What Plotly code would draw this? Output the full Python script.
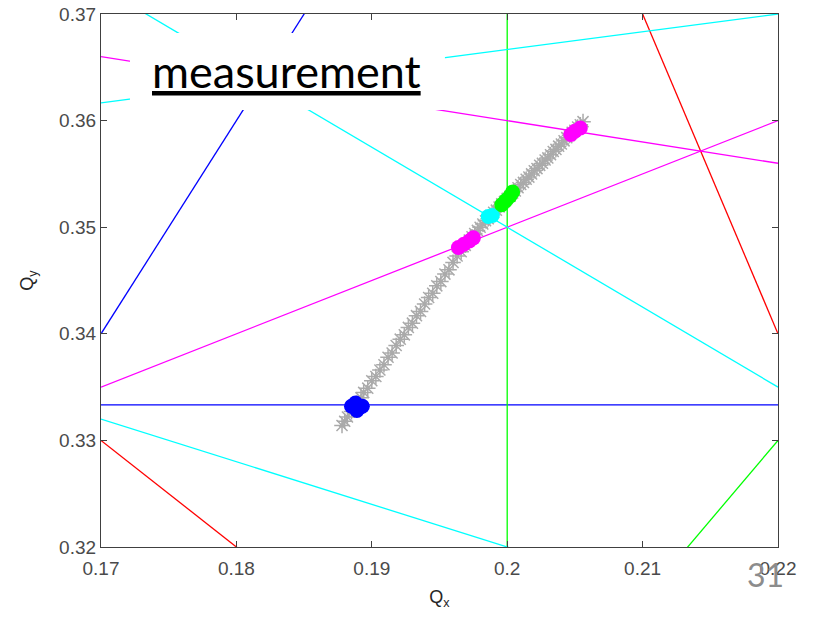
import plotly.graph_objects as go

# resonance lines m*Qx + n*Qy = p
res_m = [0, 2, 2, 3, 5, 3, -2, 1, 3, -1, 2]
res_n = [3, -1, 2, 1, 0, -2, 4, 5, 4, 6, 5]
res_p = [1, 0, 1, 1, 1, 0, 1, 2, 2, 2, 2]
res_color = ['#0000ff', '#0000ff', '#ff0000', '#ff0000', '#00ff00', '#00ff00',
             '#ff00ff', '#ff00ff', '#00ffff', '#00ffff', '#00ffff']

# measured tunes (gray)
meas_qx = [0.1878, 0.1880, 0.1882, 0.1885, 0.1887, 0.1889, 0.1892, 0.1894, 0.1897, 0.1900,
           0.1903, 0.1906, 0.1909, 0.1912, 0.1915, 0.1918, 0.1921, 0.1924, 0.1927, 0.1930,
           0.1933, 0.1936, 0.1939, 0.1942, 0.1945, 0.1948, 0.1951, 0.1954, 0.1957, 0.1960,
           0.1963, 0.1966, 0.1969, 0.1972, 0.1974, 0.1976, 0.1978, 0.1980, 0.1982, 0.1984,
           0.1986, 0.1988, 0.1990, 0.1992, 0.1994, 0.1996, 0.1998, 0.2000, 0.2002, 0.2004,
           0.2006, 0.2008, 0.2010, 0.2012, 0.2014, 0.2016, 0.2018, 0.2020, 0.2022, 0.2024,
           0.2026, 0.2028, 0.2030, 0.2032, 0.2034, 0.2036, 0.2038, 0.2040, 0.2042, 0.2044,
           0.2046, 0.2048, 0.2050, 0.2052, 0.2054, 0.2056]
meas_qy = [0.3314, 0.3318, 0.3322, 0.3327, 0.3330, 0.3335, 0.3340, 0.3345, 0.3349, 0.3356,
           0.3360, 0.3366, 0.3371, 0.3378, 0.3382, 0.3389, 0.3395, 0.3399, 0.3406, 0.3410,
           0.3417, 0.3421, 0.3428, 0.3434, 0.3438, 0.3445, 0.3449, 0.3456, 0.3460, 0.3467,
           0.3473, 0.3477, 0.3483, 0.3488, 0.3491, 0.3494, 0.3497, 0.3500, 0.3503, 0.3506,
           0.3508, 0.3511, 0.3514, 0.3516, 0.3519, 0.3522, 0.3524, 0.3527, 0.3529, 0.3532,
           0.3534, 0.3537, 0.3540, 0.3542, 0.3545, 0.3547, 0.3550, 0.3553, 0.3555, 0.3558,
           0.3560, 0.3563, 0.3565, 0.3568, 0.3571, 0.3573, 0.3576, 0.3578, 0.3581, 0.3584,
           0.3586, 0.3589, 0.3591, 0.3594, 0.3596, 0.3599]

# tunes sitting on resonances
hit_qx = [[0.1885, 0.1888, 0.1891, 0.1893, 0.1889],
          [0.1964, 0.1968, 0.1972, 0.1975],
          [0.1986, 0.1989],
          [0.1996, 0.1999, 0.2002, 0.2004],
          [0.2047, 0.2050, 0.2054]]
hit_qy = [[0.3332, 0.3335, 0.3331, 0.3332, 0.3328],
          [0.3481, 0.3484, 0.3487, 0.3490],
          [0.3510, 0.3511],
          [0.3521, 0.3525, 0.3529, 0.3533],
          [0.3587, 0.3590, 0.3593]]
hit_color = ['#0000ff', '#ff00ff', '#00ffff', '#00ff00', '#ff00ff']

x_lo, x_hi = 0.17, 0.22
y_lo, y_hi = 0.32, 0.37

fig = go.Figure()

for m, n, p, c in zip(res_m, res_n, res_p, res_color):
    if n == 0:
        xs = [p / m, p / m]
        ys = [y_lo, y_hi]
    else:
        xs = [x_lo, x_hi]
        ys = [(p - m * x) / n for x in xs]
    fig.add_trace(go.Scatter(x=xs, y=ys, mode='lines', line=dict(color=c, width=1.3),
                             showlegend=False, hoverinfo='skip'))

fig.add_trace(go.Scatter(x=meas_qx, y=meas_qy, mode='markers',
                         marker=dict(symbol='asterisk-open', size=13, color='#aaaaaa',
                                     line=dict(color='#aaaaaa', width=1.5)),
                         showlegend=False))

for qx, qy, c in zip(hit_qx, hit_qy, hit_color):
    fig.add_trace(go.Scatter(x=qx, y=qy, mode='markers',
                             marker=dict(symbol='circle', size=15, color=c, line=dict(width=0)),
                             showlegend=False))

axis_common = dict(showgrid=False, zeroline=False, showline=True, linecolor='#404040', linewidth=1.3,
                   mirror='allticks', ticks='inside', ticklen=6, tickcolor='#404040', dtick=0.01,
                   automargin=False,
                   tickfont=dict(family='Liberation Sans, Arial', size=19, color='#4a4a4a'))

fig.update_xaxes(range=[x_lo, x_hi], tick0=0.17, ticklabelstandoff=4,
                 title=dict(text='Q<sub>x</sub>', standoff=12,
                            font=dict(family='Liberation Sans, Arial', size=18, color='#262626')),
                 **axis_common)
fig.update_yaxes(range=[y_lo, y_hi], tick0=0.32,
                 title=dict(text='Q<sub>y</sub>', standoff=20,
                            font=dict(family='Liberation Sans, Arial', size=18, color='#262626')),
                 **axis_common)

fig.add_shape(type='rect', xref='paper', yref='paper', x0=0.0428, x1=0.508, y0=0.8199, y1=0.9644,
              fillcolor='white', line=dict(width=0), layer='above')
fig.add_annotation(text='<u>measurement</u>', xref='paper', yref='paper', x=0.2733, y=0.893,
                   xanchor='center', yanchor='middle', showarrow=False,
                   font=dict(family='Lato', size=45, color='black'))
fig.add_annotation(text='31', xref='paper', yref='paper', x=0.982, y=-0.0525,
                   xanchor='center', yanchor='middle', showarrow=False,
                   font=dict(family='Lato', size=32, color='#8c8c8c'))

fig.update_layout(width=813, height=621, margin=dict(l=101, r=35, t=14, b=74),
                  plot_bgcolor='white', paper_bgcolor='white')

fig.write_html("out.html", config={'displayModeBar': False},
               post_script="document.body.style.margin='0';")
